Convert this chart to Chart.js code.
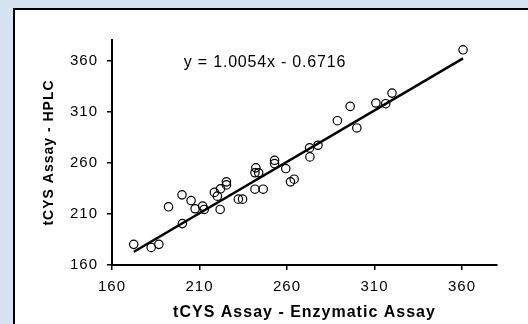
<!DOCTYPE html>
<html>
<head>
<meta charset="utf-8">
<script src="https://cdn.jsdelivr.net/npm/chart.js@4.4.1/dist/chart.umd.min.js"></script>
<style>
  body { margin: 0; background: #d5e3f3; width: 528px; height: 324px; overflow: hidden; }
  #panel { position: absolute; left: 13px; top: 8px; width: 515px; height: 316px;
           background: #fff; border-left: 2px solid #000; border-top: 2px solid #000; box-sizing: border-box; }
  canvas { position: absolute; left: 0; top: 0; }
</style>
</head>
<body>
<div id="panel"><canvas id="chart" width="513" height="314"></canvas></div>
<script>
// values
const enzymatic = [172.4, 182.4, 186.8, 192.3, 200.2, 200.0, 205.2, 207.5, 211.8, 212.7,
                   218.5, 220.2, 222.0, 221.8, 225.4, 225.4, 232.2, 234.6, 242.2, 241.7,
                   243.8, 241.7, 246.4, 252.9, 252.9, 259.3, 262.0, 264.1, 272.9, 273.1,
                   277.7, 288.8, 296.1, 299.9, 310.8, 316.4, 320.0, 360.6];
const hplc =      [180.2, 177.2, 180.2, 216.9, 200.5, 228.6, 223.0, 215.0, 217.6, 214.3,
                   231.0, 227.3, 234.5, 214.3, 241.3, 238.3, 224.4, 224.4, 255.0, 250.2,
                   250.2, 234.1, 234.1, 262.4, 259.2, 254.3, 241.3, 243.9, 274.5, 265.7,
                   277.1, 301.1, 315.1, 294.0, 318.4, 317.7, 328.1, 370.4];
const trendX = [172.5, 360.6];
const trendY = [173.0, 362.0];
const xTicks = [160, 210, 260, 310, 360];
const yTicks = [160, 210, 260, 310, 360];
const equation = "y = 1.0054x - 0.6716";

let points = [];
for (let i = 0; i < enzymatic.length; i++) {
    points.push({ x: enzymatic[i], y: hplc[i] });
}
let trend = trendX.map((v, i) => ({ x: v, y: trendY[i] }));

const tickFont = { family: "Arial, 'Liberation Sans'", size: 15 };

// the original text is drawn a little wide, so spread the letters
const wideText = {
    id: 'wideText',
    beforeUpdate(chart) { chart.ctx.letterSpacing = '1px'; }
};

const equationLabel = {
    id: 'equationLabel',
    afterDatasetsDraw(chart) {
        let ctx = chart.ctx;
        let x = chart.scales.x.getPixelForValue(201);
        let y = chart.scales.y.getPixelForValue(358);
        ctx.save();
        ctx.letterSpacing = '0.8px';
        ctx.font = "16px Arial, 'Liberation Sans'";
        ctx.fillStyle = '#000';
        ctx.textAlign = 'left';
        ctx.textBaseline = 'middle';
        ctx.fillText(equation, x, y);
        ctx.restore();
    }
};

function axis(ticks, extra) {
    return Object.assign({
        type: 'linear',
        min: 160,
        max: 380,
        afterBuildTicks: s => { s.ticks = ticks.map(v => ({ value: v })); },
        grid: { drawOnChartArea: false, drawTicks: true, tickLength: 5, color: '#000', lineWidth: 1.5 },
        border: { display: true, color: '#000', width: 2 }
    }, extra);
}

new Chart(document.getElementById('chart').getContext('2d'), {
    type: 'scatter',
    data: {
        datasets: [{
            type: 'line',
            data: trend,
            borderColor: '#000',
            borderWidth: 2.5,
            pointRadius: 0,
            fill: false,
            order: 2
        }, {
            data: points,
            pointStyle: 'circle',
            pointRadius: 4.2,
            borderWidth: 1.2,
            borderColor: '#000',
            backgroundColor: 'rgba(0,0,0,0)',
            order: 1
        }]
    },
    options: {
        responsive: false,
        animation: false,
        devicePixelRatio: 1,
        layout: { padding: { left: 0, right: 31, top: 30, bottom: 0 } },
        plugins: { legend: { display: false }, tooltip: { enabled: false } },
        scales: {
            x: axis(xTicks, {
                position: 'bottom',
                afterFit: s => { s.height = 59; },
                ticks: { color: '#000', font: tickFont, padding: 8, maxRotation: 0, autoSkip: false },
                title: { display: true, text: 'tCYS Assay - Enzymatic Assay', color: '#000',
                         font: { family: "Arial, 'Liberation Sans'", size: 16, weight: 'bold' }, padding: { top: 0, bottom: 2 } }
            }),
            y: axis(yTicks, {
                position: 'left',
                afterFit: s => { s.width = 97; },
                ticks: { color: '#000', font: tickFont, padding: 9, maxRotation: 0, autoSkip: false },
                title: { display: true, text: 'tCYS Assay - HPLC', color: '#000',
                         font: { family: "Arial, 'Liberation Sans'", size: 14, weight: 'bold' }, padding: { top: 26, bottom: 0 } }
            })
        }
    },
    plugins: [wideText, equationLabel]
});
</script>
</body>
</html>
